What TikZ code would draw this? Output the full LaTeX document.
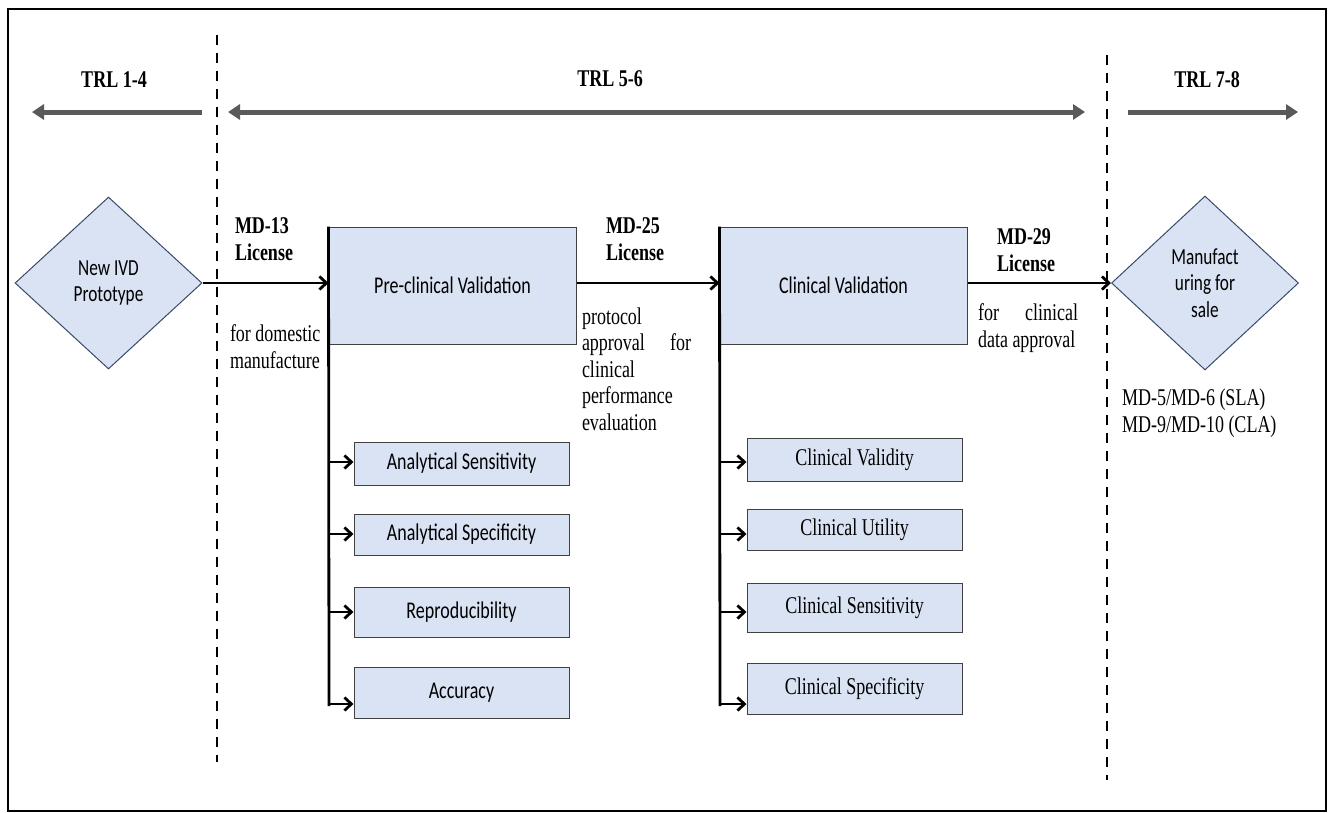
\documentclass[tikz,border=0pt]{standalone}
\usepackage{fontspec}
\setmainfont{Liberation Serif}[FakeStretch=0.75]
\newfontfamily\calfont{Carlito}[FakeStretch=0.75]
\usetikzlibrary{arrows.meta,shapes.geometric}
\definecolor{boxfill}{HTML}{DAE3F3}
\definecolor{boxline}{HTML}{404040}
\definecolor{dialine}{HTML}{3A4A6A}
\definecolor{trlgray}{HTML}{5A5A5A}
\begin{document}
\begin{tikzpicture}[x=1pt,y=-1pt,
  txt/.style={font=\fontsize{24}{26.5}\selectfont, inner sep=0pt, outer sep=0pt},
  btxt/.style={txt, font=\fontsize{24}{26.5}\selectfont\bfseries},
  lbl/.style={txt, align=left, anchor=base west},
  blbl/.style={btxt, align=left, anchor=base west},
  cbox/.style={draw=boxline, line width=1pt, fill=boxfill, inner sep=0pt,
    font=\fontsize{24}{26.5}\selectfont\calfont},
  tbox/.style={draw=boxline, line width=1pt, fill=boxfill, inner sep=0pt,
    font=\fontsize{24}{26.5}\selectfont},
  dia/.style={shape=diamond, draw=dialine, line width=1pt, fill=boxfill, inner sep=0pt,
    align=center, font=\fontsize{23}{26.5}\selectfont\calfont},
  trl/.style={draw=trlgray, line width=5pt},
  flow/.style={draw=black, line width=2.8pt, -{Straight Barb[length=7pt,width=13pt]}},
  trunk/.style={draw=black, line width=2.8pt},
  sep/.style={draw=black, line width=2.2pt, dash pattern=on 10pt off 8pt}
]
\useasboundingbox (0,0) rectangle (1333,812);
\draw[line width=2.5pt] (8,9) rectangle (1326,811);

% dashed separators
\coordinate (s1a) at (217,35);
\coordinate (s1b) at (217,762);
\coordinate (s2a) at (1107,55);
\coordinate (s2b) at (1107,780);
\draw[sep] (s1a) -- (s1b);
\draw[sep] (s2a) -- (s2b);

% TRL labels and arrows
\node[btxt, anchor=base] (trl1) at (114,87) {TRL 1-4};
\node[btxt, anchor=base] (trl2) at (610,86) {TRL 5-6};
\node[btxt, anchor=base] (trl3) at (1207,87) {TRL 7-8};
\coordinate (g1a) at (202,112);
\coordinate (g1b) at (32,112);
\coordinate (g2a) at (228,112);
\coordinate (g2b) at (1085,112);
\coordinate (g3a) at (1128,112);
\coordinate (g3b) at (1298,112);
\draw[trl, -{Triangle[length=12pt,width=15pt]}] (g1a) -- (g1b);
\draw[trl, {Triangle[length=12pt,width=15pt]}-{Triangle[length=12pt,width=15pt]}] (g2a) -- (g2b);
\draw[trl, -{Triangle[length=12pt,width=15pt]}] (g3a) -- (g3b);

% main flow
\node[dia, minimum width=187pt, minimum height=172pt] (d1) at (108.5,283) {New IVD\\Prototype};
\node[cbox, minimum width=247pt, minimum height=117pt] (pre) at (452.5,285.5) {Pre-clinical Validation};
\node[cbox, minimum width=247pt, minimum height=117pt] (clin) at (843.5,285.5) {Clinical Validation};
\node[dia, minimum width=187pt, minimum height=174pt] (d2) at (1205,283) {Manufact\\uring for\\sale};

\draw[flow] (d1.east) -- (d1.east -| pre.west);
\draw[flow] (pre.east |- d1.east) -- (d1.east -| clin.west);
\draw[flow] (clin.east |- d1.east) -- (d2.west);

% annotations (anchor = baseline of the last line)
\node[blbl] (md13) at (235,260) {MD-13\\License};
\node[lbl] (dom) at (230,368) {for domestic\\manufacture};
\node[blbl] (md25) at (606,260) {MD-25\\License};
\node[lbl] (prot) at (582,430) {protocol\\\hbox to 109pt{approval\hfill for}\\clinical\\performance\\evaluation};
\node[blbl] (md29) at (997,271) {MD-29\\License};
\node[lbl] (cda) at (978,347) {\hbox to 100pt{for\hfill clinical}\\data approval};
\node[lbl] (lic) at (1122,432) {MD-5/MD-6 (SLA)\\MD-9/MD-10 (CLA)};

% pre-clinical sub-steps
\node[cbox, minimum width=215pt, minimum height=43pt] (as) at (461.5,463.5) {Analytical Sensitivity};
\node[cbox, minimum width=215pt, minimum height=41pt] (asp) at (461.5,534.5) {Analytical Specificity};
\node[cbox, minimum width=215pt, minimum height=50pt] (rep) at (461.5,612) {Reproducibility};
\node[cbox, minimum width=215pt, minimum height=51pt] (acc) at (461.5,692.5) {Accuracy};
\coordinate (pa1) at (329,462);
\coordinate (pa2) at (329,534);
\coordinate (pa3) at (329,612);
\coordinate (pa4) at (329,704);
\coordinate (pend) at (329,706);
\draw[trunk] (pre.north west) -- (pend);
\draw[flow] (pa1) -- (pa1 -| as.west);
\draw[flow] (pa2) -- (pa2 -| asp.west);
\draw[flow] (pa3) -- (pa3 -| rep.west);
\draw[flow] (pa4) -- (pa4 -| acc.west);

% clinical sub-steps
\node[tbox, minimum width=215pt, minimum height=43pt] (cv) at (854.5,459.5) {Clinical Validity};
\node[tbox, minimum width=215pt, minimum height=41pt] (cu) at (854.5,529.5) {Clinical Utility};
\node[tbox, minimum width=215pt, minimum height=49pt] (cs) at (854.5,607.5) {Clinical Sensitivity};
\node[tbox, minimum width=215pt, minimum height=51pt] (csp) at (854.5,688.5) {Clinical Specificity};
\coordinate (ca1) at (720,462);
\coordinate (ca2) at (720,534);
\coordinate (ca3) at (720,612);
\coordinate (ca4) at (720,704);
\coordinate (cend) at (720,706);
\draw[trunk] (clin.north west) -- (cend);
\draw[flow] (ca1) -- (ca1 -| cv.west);
\draw[flow] (ca2) -- (ca2 -| cu.west);
\draw[flow] (ca3) -- (ca3 -| cs.west);
\draw[flow] (ca4) -- (ca4 -| csp.west);
\end{tikzpicture}
\end{document}
